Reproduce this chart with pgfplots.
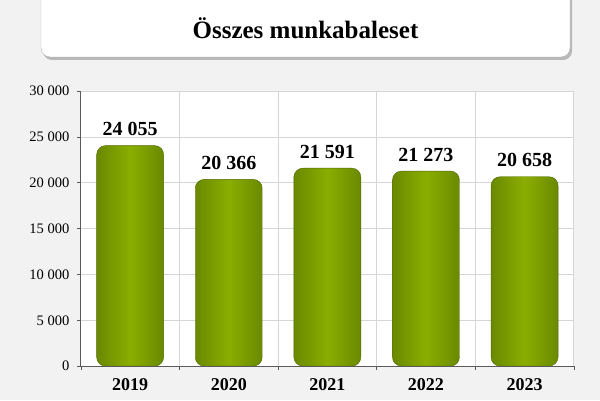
\documentclass[border=0pt]{standalone}
\usepackage{pgfplots}
\pgfplotsset{compat=1.18}
\usepackage{fontspec}
\setmainfont{Liberation Serif}
\usetikzlibrary{shadows}

\definecolor{bg}{HTML}{F2F2F2}
\definecolor{gridgray}{HTML}{D6D6D6}
\definecolor{axisgray}{HTML}{5A5A5A}
\definecolor{bargreen}{HTML}{8AAE00}
\definecolor{bardark}{HTML}{5F7D00}

\pgfplotsset{
  greenbar/.style={draw=bardark!85!black, line width=0.4pt, rounded corners=9pt,
    left color=bardark!75!bargreen, right color=bardark!75!bargreen,
    middle color=bargreen, bar shift=0pt},
}

\begin{document}
\begin{tikzpicture}[x=1pt,y=1pt]
  \path[use as bounding box, fill=bg] (0,0) rectangle (600,400);
  % title box
  \begin{scope}
    \clip (0,0) rectangle (600,400);
    \draw[gray!60, fill=white, rounded corners=9pt,
          drop shadow={shadow xshift=2pt, shadow yshift=-3pt, opacity=0.5}]
      (41,343) rectangle (570,412);
  \end{scope}
  \node[font=\fontsize{25}{28}\selectfont\bfseries] at (305.5,372) {Összes munkabaleset};

  \begin{axis}[
      at={(82,37)}, anchor=south west,
      scale only axis,
      width=493pt, height=275pt,
      xmin=-0.5, xmax=4.5,
      ymin=0, ymax=30000,
      scaled y ticks=false,
      ytick={0,5000,10000,15000,20000,25000,30000},
      yticklabels={0,5 000,10 000,15 000,20 000,25 000,30 000},
      xtick={0,1,2,3,4},
      xticklabels={2019,2020,2021,2022,2023},
      minor xtick={-0.5,0.5,1.5,2.5,3.5,4.5},
      xtick pos=bottom, ytick pos=left,
      xminorgrids, ymajorgrids,
      grid style={gridgray, line width=0.8pt},
      minor grid style={gridgray, line width=0.8pt},
      axis background/.style={fill=white},
      axis line style={gridgray, line width=0.8pt},
      major tick length=0pt,
      minor tick length=4pt,
      x tick style={draw=none},
      minor x tick style={draw=axisgray, line width=0.6pt},
      extra y ticks={0,5000,10000,15000,20000,25000,30000},
      extra y tick labels={},
      extra y tick style={major tick length=4pt, tick style={draw=axisgray, line width=0.6pt}, grid=none},
      tick align=outside,
      yticklabel style={font=\fontsize{14.5}{16}\selectfont, xshift=-8pt},
      xticklabel style={font=\fontsize{18}{20}\selectfont\bfseries, yshift=-9pt},
      ybar, bar width=67pt,
      nodes near coords,
      point meta=explicit symbolic,
      every node near coord/.append style={font=\fontsize{20}{22}\selectfont\bfseries, black, yshift=6pt},
      clip=false,
    ]
    \addplot[greenbar] coordinates {(0,24055) [24 055]};
    \addplot[greenbar] coordinates {(1,20366) [20 366]};
    \addplot[greenbar] coordinates {(2,21591) [21 591]};
    \addplot[greenbar] coordinates {(3,21273) [21 273]};
    \addplot[greenbar] coordinates {(4,20658) [20 658]};
    \draw[axisgray, line width=1pt] (rel axis cs:0,1) -- (rel axis cs:0,0) -- (rel axis cs:1,0);
  \end{axis}
\end{tikzpicture}
\end{document}
